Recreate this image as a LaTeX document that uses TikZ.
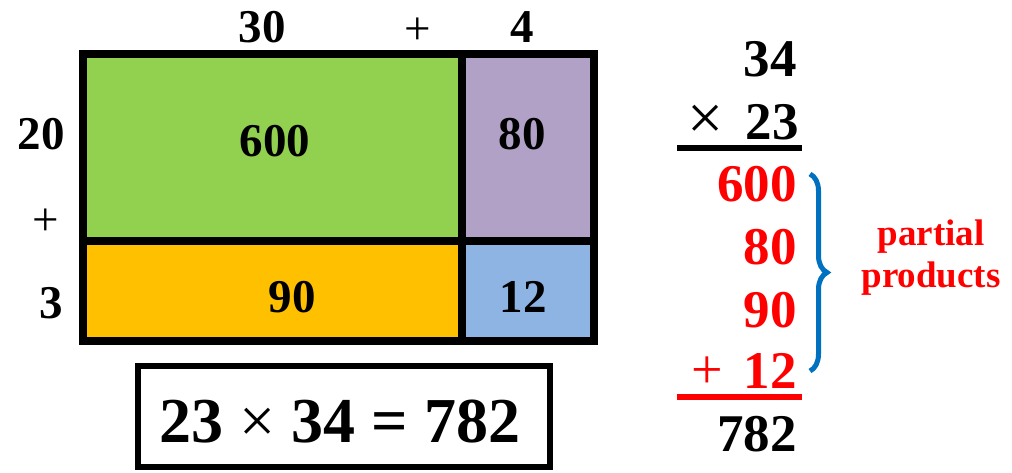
\documentclass[tikz,border=0pt]{standalone}
\usepackage{fontspec}
\setmainfont{Liberation Serif}
\usetikzlibrary{decorations.pathreplacing}
\definecolor{cgreen}{RGB}{146,208,80}
\definecolor{cpurple}{RGB}{178,161,199}
\definecolor{corange}{RGB}{255,192,0}
\definecolor{cblue}{RGB}{142,180,227}
\definecolor{cred}{RGB}{255,0,0}
\definecolor{bblue}{RGB}{0,112,192}
\tikzset{
  lab/.style={inner sep=0pt,anchor=base,font=\fontsize{47}{47}\selectfont\bfseries},
  col/.style={inner sep=0pt,anchor=base east,font=\fontsize{53}{53}\selectfont\bfseries},
  sign/.style={inner sep=0pt,anchor=base,font=\fontsize{56}{56}\selectfont},
  gridline/.style={line width=8pt},
}
\begin{document}
\begin{tikzpicture}[x=1pt,y=-1pt]
\useasboundingbox (0,0) rectangle (1012,473);
% cells
\fill[cgreen] (83,54) rectangle (462,241);
\fill[cpurple] (462,54) rectangle (594,241);
\fill[corange] (83,241) rectangle (462,341);
\fill[cblue] (462,241) rectangle (594,341);
\coordinate (tl) at (83,54);
\coordinate (br) at (594,341);
\coordinate (vt) at (462,54);
\coordinate (vb) at (462,341);
\coordinate (hl) at (83,241);
\coordinate (hr) at (594,241);
\draw[gridline] (tl) rectangle (br);
\draw[gridline] (vt) -- (vb);
\draw[gridline] (hl) -- (hr);
% labels
\node[lab] (t30) at (262,43) {30};
\node[lab,font=\fontsize{47}{47}\selectfont] (tplus) at (418,45) {+};
\node[lab] (t4) at (522,43) {4};
\node[lab] (l20) at (41,150) {20};
\node[lab,font=\fontsize{47}{47}\selectfont] (lplus) at (46,236) {+};
\node[lab] (l3) at (51,318) {3};
\node[lab] (c600) at (275,157) {600};
\node[lab] (c80) at (522,150) {80};
\node[lab] (c90) at (292,312) {90};
\node[lab] (c12) at (523,312) {12};
% equation box
\node[draw,line width=6pt,minimum width=412pt,minimum height=101pt,inner sep=0pt] (eq) at (344,416.5) {};
\node[inner sep=0pt,anchor=base,font=\fontsize{64}{64}\selectfont\bfseries] (eqt) at (340,442) {23 {\mdseries×} 34 = 782};
% vertical multiplication
\node[col] (n34) at (797,77) {34};
\node[col] (n23) at (799,140) {23};
\node[sign,font=\fontsize{64}{64}\selectfont] (times) at (706,140) {×};
\coordinate (l1a) at (677,148);
\coordinate (l1b) at (802,148);
\draw[line width=6pt] (l1a) -- (l1b);
\begin{scope}[text=cred]
\node[col] (p600) at (797,202) {600};
\node[col] (p80) at (797,265) {80};
\node[col] (p90) at (797,327) {90};
\node[col] (p12) at (797,388) {12};
\node[sign] (plus) at (707,388) {+};
\end{scope}
\coordinate (l2a) at (677,397);
\coordinate (l2b) at (802,397);
\draw[cred,line width=6pt] (l2a) -- (l2b);
\node[col] (n782) at (797,451) {782};
% brace
\coordinate (ba) at (810,174);
\coordinate (bb) at (810,371);
\draw[bblue,line width=5pt,decorate,decoration={brace,amplitude=17pt,aspect=0.5}] (ba) -- (bb);
\node[inner sep=0pt,align=center,text=cred,font=\fontsize{37}{42}\selectfont\bfseries] (pp) at (931,258) {partial\\products};
\end{tikzpicture}
\end{document}
